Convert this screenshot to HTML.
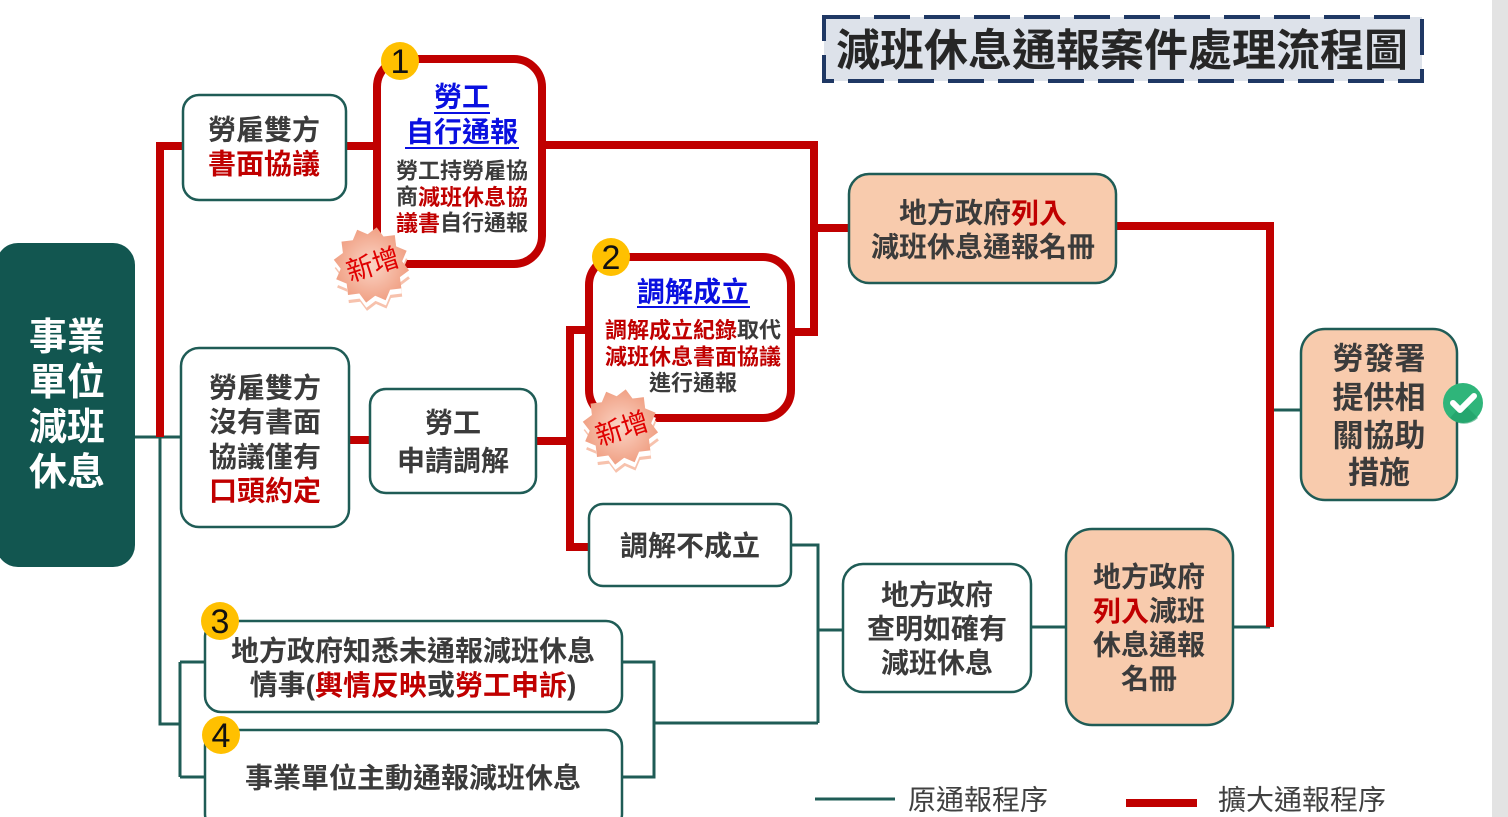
<!DOCTYPE html>
<html><head><meta charset="utf-8">
<style>
html,body{margin:0;padding:0;background:#fff;}
svg{display:block;}
text{font-family:"Liberation Sans","Noto Sans CJK TC",sans-serif;}
.b{font-weight:700;fill:#3b3b3b;font-size:28px;}
.s{font-weight:700;fill:#3b3b3b;font-size:22px;}
.r{fill:#c00000;}
.bl{fill:#0a10e0;}
</style></head><body>
<svg width="1508" height="817" viewBox="0 0 1508 817" xmlns="http://www.w3.org/2000/svg">
<defs>
<radialGradient id="sg" cx="50%" cy="50%" r="50%">
<stop offset="0%" stop-color="#fbd5c6"/>
<stop offset="100%" stop-color="#f0a084"/>
</radialGradient>
</defs>
<rect x="0" y="0" width="1508" height="817" fill="#fff"/>
<rect x="1492" y="0" width="16" height="817" fill="#e3e3e3"/>

<!-- Title -->
<rect x="824" y="17" width="598" height="64" fill="#dde2ea" stroke="#1f3864" stroke-width="4" stroke-dasharray="36 14"/>
<text x="1122" y="51" text-anchor="middle" dominant-baseline="central" style="font-weight:700;font-size:44px;fill:#262626">減班休息通報案件處理流程圖</text>

<!-- teal lines -->
<g stroke="#1f5c56" stroke-width="3" fill="none">
<path d="M135 437 H181"/>
<path d="M160 437 V724 H180"/>
<path d="M180 662 V777"/>
<path d="M180 662 H205"/>
<path d="M180 777 H205"/>
<path d="M622 662 H654 V777 H622"/>
<path d="M654 723 H818"/>
<path d="M791 545 H818 V723"/>
<path d="M818 630 H843"/>
<path d="M1031 627 H1066"/>
<path d="M1233 627 H1270"/>
<path d="M1270 410 H1301"/>
</g>
<!-- red lines -->
<g stroke="#c00000" stroke-width="8" fill="none" stroke-linejoin="miter">
<path d="M183 146 H160 V437"/>
<path d="M346 146 H376"/>
<path d="M546 145 H814 V332 H794"/>
<path d="M814 228 H849"/>
<path d="M349 440 H370"/>
<path d="M536 441 H570"/>
<path d="M589 330 H570 V547 H589"/>
<path d="M1116 226 H1270 V627"/>
</g>

<!-- 事業單位減班休息 -->
<rect x="-4" y="243" width="139" height="324" rx="22" fill="#125650"/>
<g style="font-weight:700;font-size:38px;fill:#fff" text-anchor="middle" dominant-baseline="central">
<text x="67" y="338" dominant-baseline="central">事業</text>
<text x="67" y="383" dominant-baseline="central">單位</text>
<text x="67" y="428" dominant-baseline="central">減班</text>
<text x="67" y="473" dominant-baseline="central">休息</text>
</g>

<!-- white teal-bordered boxes -->
<g fill="#fff" stroke="#1f5c56" stroke-width="2.5">
<rect x="183" y="95" width="163" height="105" rx="16"/>
<rect x="181" y="348" width="168" height="179" rx="18"/>
<rect x="370" y="389" width="166" height="104" rx="16"/>
<rect x="589" y="504" width="202" height="82" rx="14"/>
<rect x="205" y="621" width="417" height="91" rx="16"/>
<rect x="205" y="730" width="417" height="100" rx="16"/>
<rect x="843" y="564" width="188" height="128" rx="20"/>
</g>
<!-- peach boxes -->
<g fill="#f8cbad" stroke="#1f5c56" stroke-width="2.5">
<rect x="849" y="174" width="267" height="109" rx="20"/>
<rect x="1066" y="529" width="167" height="196" rx="26"/>
<rect x="1301" y="329" width="156" height="171" rx="24"/>
</g>
<!-- red boxes -->
<g fill="#fff" stroke="#c00000" stroke-width="8">
<rect x="377" y="59" width="165" height="205" rx="28"/>
<rect x="589" y="257" width="202" height="161" rx="28"/>
</g>

<!-- texts -->
<g text-anchor="middle">
<text class="b" x="264" y="130" dominant-baseline="central">勞雇雙方</text>
<text class="b r" x="264" y="164" dominant-baseline="central" style="fill:#c00000">書面協議</text>

<text class="b bl" x="462" y="97" dominant-baseline="central" style="fill:#0a10e0">勞工</text>
<text class="b bl" x="462" y="132" dominant-baseline="central" style="fill:#0a10e0">自行通報</text>
<text class="s" x="462" y="171" dominant-baseline="central">勞工持勞雇協</text>
<text class="s" x="462" y="197" dominant-baseline="central">商<tspan fill="#c00000">減班休息協</tspan></text>
<text class="s" x="462" y="223" dominant-baseline="central"><tspan fill="#c00000">議書</tspan>自行通報</text>

<text class="b" x="693" y="292" dominant-baseline="central" style="fill:#0a10e0">調解成立</text>
<text class="s" x="693" y="330" dominant-baseline="central"><tspan fill="#c00000">調解成立紀錄</tspan>取代</text>
<text class="s" x="693" y="357" dominant-baseline="central" style="fill:#c00000">減班休息書面協議</text>
<text class="s" x="693" y="383" dominant-baseline="central">進行通報</text>

<text class="b" x="265" y="388" dominant-baseline="central">勞雇雙方</text>
<text class="b" x="265" y="422" dominant-baseline="central">沒有書面</text>
<text class="b" x="265" y="457" dominant-baseline="central">協議僅有</text>
<text class="b" x="265" y="491" dominant-baseline="central" style="fill:#c00000">口頭約定</text>

<text class="b" x="453" y="423" dominant-baseline="central">勞工</text>
<text class="b" x="453" y="461" dominant-baseline="central">申請調解</text>

<text class="b" x="690" y="546" dominant-baseline="central">調解不成立</text>

<text class="b" x="413" y="651" dominant-baseline="central">地方政府知悉未通報減班休息</text>
<text class="b" x="413" y="685" dominant-baseline="central">情事(<tspan fill="#c00000">輿情反映</tspan>或<tspan fill="#c00000">勞工申訴</tspan>)</text>
<text class="b" x="413" y="778" dominant-baseline="central">事業單位主動通報減班休息</text>

<text class="b" x="937" y="595" dominant-baseline="central">地方政府</text>
<text class="b" x="937" y="629" dominant-baseline="central">查明如確有</text>
<text class="b" x="937" y="663" dominant-baseline="central">減班休息</text>

<text class="b" x="1149" y="577" dominant-baseline="central">地方政府</text>
<text class="b" x="1149" y="611" dominant-baseline="central"><tspan fill="#c00000">列入</tspan>減班</text>
<text class="b" x="1149" y="645" dominant-baseline="central">休息通報</text>
<text class="b" x="1149" y="679" dominant-baseline="central">名冊</text>

<text class="b" x="983" y="213" dominant-baseline="central">地方政府<tspan fill="#c00000">列入</tspan></text>
<text class="b" x="983" y="247" dominant-baseline="central">減班休息通報名冊</text>

<text class="b" x="1379" y="359" dominant-baseline="central" style="font-size:31px">勞發署</text>
<text class="b" x="1379" y="398" dominant-baseline="central" style="font-size:31px">提供相</text>
<text class="b" x="1379" y="436" dominant-baseline="central" style="font-size:31px">關協助</text>
<text class="b" x="1379" y="473" dominant-baseline="central" style="font-size:31px">措施</text>
</g>

<!-- underlines -->
<g stroke="#0a10e0" stroke-width="2">
<line x1="434" y1="113" x2="490" y2="113"/>
<line x1="405" y1="148" x2="519" y2="148"/>
<line x1="637" y1="307" x2="750" y2="307"/>
</g>

<!-- check icon -->
<circle cx="1463" cy="403" r="20" fill="#2fb57a"/>
<path d="M1463 403 L1478 418 A20 20 0 0 1 1450 418 Z" fill="#1f9c66" opacity="0.6"/>
<path d="M1453 403 L1460 410 L1474 396" stroke="#fff" stroke-width="6" fill="none" stroke-linecap="round" stroke-linejoin="round"/>

<!-- badges -->
<g fill="#ffc000">
<circle cx="400" cy="61" r="19"/>
<circle cx="611" cy="257" r="19"/>
<circle cx="220" cy="621" r="19"/>
<circle cx="221" cy="735" r="19"/>
</g>
<g style="font-size:34px;fill:#111" text-anchor="middle">
<text x="400" y="73">1</text>
<text x="611" y="269">2</text>
<text x="220" y="633">3</text>
<text x="221" y="747">4</text>
</g>

<!-- starbursts -->
<g transform="translate(371,268) rotate(8)">
<polygon points="38,0 29.9,8 32.9,19 21.9,21.9 19,32.9 8,29.9 0,38 -8,29.9 -19,32.9 -21.9,21.9 -32.9,19 -29.9,8 -38,0 -29.9,-8 -32.9,-19 -21.9,-21.9 -19,-32.9 -8,-29.9 0,-38 8,-29.9 19,-32.9 21.9,-21.9 32.9,-19 29.9,-8" fill="#f7c2ad" transform="translate(2,5)"/>
<polygon points="38,0 29.9,8 32.9,19 21.9,21.9 19,32.9 8,29.9 0,38 -8,29.9 -19,32.9 -21.9,21.9 -32.9,19 -29.9,8 -38,0 -29.9,-8 -32.9,-19 -21.9,-21.9 -19,-32.9 -8,-29.9 0,-38 8,-29.9 19,-32.9 21.9,-21.9 32.9,-19 29.9,-8" fill="#fff" transform="translate(1,2)"/>
<polygon points="38,0 29.9,8 32.9,19 21.9,21.9 19,32.9 8,29.9 0,38 -8,29.9 -19,32.9 -21.9,21.9 -32.9,19 -29.9,8 -38,0 -29.9,-8 -32.9,-19 -21.9,-21.9 -19,-32.9 -8,-29.9 0,-38 8,-29.9 19,-32.9 21.9,-21.9 32.9,-19 29.9,-8" fill="url(#sg)" transform="translate(0,-3)"/>
</g>
<text x="373" y="265" text-anchor="middle" dominant-baseline="central" transform="rotate(-18 373 265)" style="font-size:27px;fill:#e00000">新增</text>

<g transform="translate(620,430) rotate(8)">
<polygon points="38,0 29.9,8 32.9,19 21.9,21.9 19,32.9 8,29.9 0,38 -8,29.9 -19,32.9 -21.9,21.9 -32.9,19 -29.9,8 -38,0 -29.9,-8 -32.9,-19 -21.9,-21.9 -19,-32.9 -8,-29.9 0,-38 8,-29.9 19,-32.9 21.9,-21.9 32.9,-19 29.9,-8" fill="#f7c2ad" transform="translate(2,5)"/>
<polygon points="38,0 29.9,8 32.9,19 21.9,21.9 19,32.9 8,29.9 0,38 -8,29.9 -19,32.9 -21.9,21.9 -32.9,19 -29.9,8 -38,0 -29.9,-8 -32.9,-19 -21.9,-21.9 -19,-32.9 -8,-29.9 0,-38 8,-29.9 19,-32.9 21.9,-21.9 32.9,-19 29.9,-8" fill="#fff" transform="translate(1,2)"/>
<polygon points="38,0 29.9,8 32.9,19 21.9,21.9 19,32.9 8,29.9 0,38 -8,29.9 -19,32.9 -21.9,21.9 -32.9,19 -29.9,8 -38,0 -29.9,-8 -32.9,-19 -21.9,-21.9 -19,-32.9 -8,-29.9 0,-38 8,-29.9 19,-32.9 21.9,-21.9 32.9,-19 29.9,-8" fill="url(#sg)" transform="translate(0,-3)"/>
</g>
<text x="622" y="429" text-anchor="middle" dominant-baseline="central" transform="rotate(-18 622 429)" style="font-size:27px;fill:#e00000">新增</text>

<!-- legend -->
<line x1="815" y1="799" x2="895" y2="799" stroke="#1f5c56" stroke-width="3"/>
<text x="908" y="800" dominant-baseline="central" style="font-size:28px;fill:#404040">原通報程序</text>
<line x1="1126" y1="803" x2="1197" y2="803" stroke="#c00000" stroke-width="8"/>
<text x="1218" y="800" dominant-baseline="central" style="font-size:28px;fill:#404040">擴大通報程序</text>
</svg>
</body></html>
